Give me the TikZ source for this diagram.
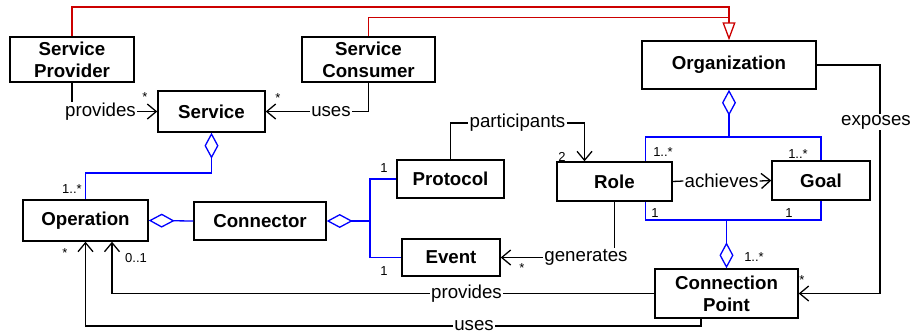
\documentclass[tikz,border=0pt]{standalone}
\usepackage{fontspec}
\setmainfont{Liberation Sans}
\usetikzlibrary{arrows.meta}
\definecolor{genred}{RGB}{204,0,0}
\definecolor{aggblue}{RGB}{0,0,255}
\begin{document}
\begin{tikzpicture}[x=1pt,y=-1pt,
 cls/.style={draw, line width=1.4pt, font=\fontsize{18.7}{22}\selectfont\bfseries, align=center, inner sep=0pt},
 lbl/.style={font=\fontsize{18.7}{22}\selectfont, inner sep=1pt},
 sm/.style={font=\fontsize{13}{15}\selectfont, inner sep=0pt},
 ln/.style={line width=1.3pt},
 arr/.style={ln, -{Straight Barb[length=9pt,width=15pt]}},
 agg/.style={ln, draw=aggblue, {Diamond[open,length=26pt,width=14pt]}-},
 aggl/.style={ln, draw=aggblue},
 gen/.style={ln, draw=genred, -{Triangle[open,length=18pt,width=13pt]}},
 genl/.style={ln, draw=genred},
]
\useasboundingbox (0,0) rectangle (911,335);

% classes
\node[cls, minimum width=124pt, minimum height=45pt] (sp) at (72,59.5) {Service\\Provider};
\node[cls, minimum width=133pt, minimum height=45pt] (sc) at (368.5,59.5) {Service\\Consumer};
\node[cls, minimum width=107pt, minimum height=41pt] (service) at (211.5,111.5) {Service};
\node[cls, minimum width=174pt, minimum height=48pt] (org) at (729,65) {Organization};
\node[cls, minimum width=125pt, minimum height=41pt] (op) at (85.5,220.5) {Operation};
\node[cls, minimum width=132pt, minimum height=38pt] (conn) at (260,221) {Connector};
\node[cls, minimum width=107pt, minimum height=38pt] (protocol) at (450.5,179) {Protocol};
\node[cls, minimum width=98pt, minimum height=37pt] (event) at (451,257.5) {Event};
\node[cls, minimum width=115pt, minimum height=39pt] (role) at (614.5,181.5) {Role};
\node[cls, minimum width=98pt, minimum height=39pt] (goal) at (821,180.5) {Goal};
\node[cls, minimum width=143pt, minimum height=49pt] (cp) at (726.5,293.5) {Connection\\Point};

% generalization
\draw[gen] (sp.north) |- (729,7) -- (org.north);
\draw[genl] (sc.north) |- (729,17.5);

% labels on associations
\node[lbl] (lprov) at (100.5,111.5) {provides};
\node[lbl] (luses) at (331,111.5) {uses};
\node[lbl] (lpart) at (517.5,123) {participants};
\node[lbl] (lach) at (721.5,181) {achieves};
\node[lbl] (lgen) at (586,257.5) {generates};
\node[lbl, fill=white] (lexp) at (876,122) {exposes};
\node[lbl] (lprov2) at (466.5,293.5) {provides};
\node[lbl] (luses2) at (474,326) {uses};

% associations
\draw[ln] (sp.south) -- (sp.south |- lprov.north);
\draw[arr] (lprov.east) -- (service.west);
\draw[ln] (sc.south) |- (luses.east);
\draw[arr] (luses.west) -- (service.east);
\draw[ln] (protocol.north) |- (lpart.west);
\draw[arr] (lpart.east) -| ([xshift=-30pt]role.north);
\draw[ln] (role.east) -- (lach.west);
\draw[arr] (lach.east) -- (goal.west);
\draw[ln] (role.south) -- (role.south |- lgen.north);
\draw[arr] (lgen.west) -- (event.east);
\draw[ln] (org.east) -| ([xshift=4pt]lexp.north);
\draw[arr] ([xshift=4pt]lexp.south) |- (cp.east);
\draw[ln] (cp.west) -- (lprov2.east);
\draw[arr] (lprov2.west) -| ([xshift=26.5pt]op.south);
\draw[ln] ([xshift=-25.5pt]cp.south) |- (luses2.east);
\draw[arr] (luses2.west) -| (op.south);

% aggregations
\draw[agg] (service.south) -- (service.south |- 0,173) -| (op.north);
\draw[agg] (op.east) -- (conn.west);
\coordinate (jc) at (370,221);
\draw[agg] (conn.east) -- (jc);
\draw[aggl] (jc) |- (protocol.west);
\draw[aggl] (jc) |- (event.west);
\coordinate (jo) at (729,137);
\draw[agg] (org.south) -- (jo);
\draw[aggl] (jo) -| ([xshift=-27pt]role.north east);
\draw[aggl] (jo) -| (goal.north);
\coordinate (jr) at (726.5,220);
\draw[agg] (cp.north) -- (jr);
\draw[aggl] (jr) -| ([xshift=-27pt]role.south east);
\draw[aggl] (jr) -| (goal.south);

% multiplicities
\node[sm] (m1) at (145,97) {*};
\node[sm] (m2) at (278,98) {*};
\node[sm] (m3) at (72,189) {1..*};
\node[sm] (m4) at (384,168) {1};
\node[sm] (m5) at (384,271) {1};
\node[sm] (m6) at (65,253) {*};
\node[sm] (m7) at (136,258) {0..1};
\node[sm] (m8) at (562,157) {2};
\node[sm] (m9) at (663,152) {1..*};
\node[sm] (m10) at (798,154) {1..*};
\node[sm] (m11) at (655,213) {1};
\node[sm] (m12) at (789,213) {1};
\node[sm] (m13) at (754,257) {1..*};
\node[sm] (m14) at (522,268) {*};
\node[sm] (m15) at (802,280) {*};
\end{tikzpicture}
\end{document}
